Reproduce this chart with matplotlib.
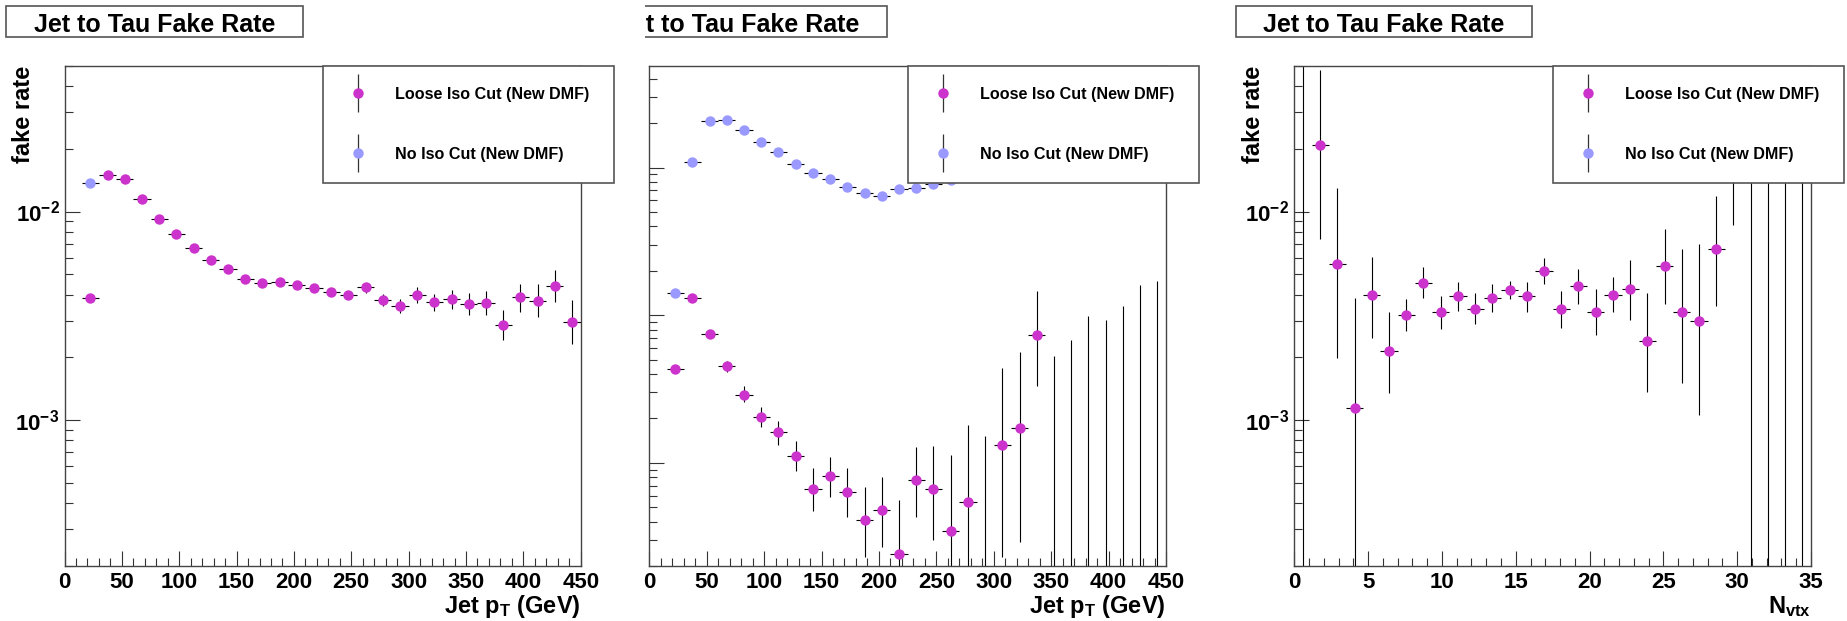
import matplotlib
matplotlib.use("Agg")
import matplotlib.pyplot as plt
import numpy as np
from matplotlib.lines import Line2D
from matplotlib.patches import Rectangle
from matplotlib.legend_handler import HandlerTuple
from matplotlib.ticker import (LogLocator, NullFormatter, FuncFormatter,
                               MultipleLocator, AutoMinorLocator)

plt.rcParams["font.family"] = ["Liberation Sans", "DejaVu Sans"]
plt.rcParams["font.weight"] = "bold"
plt.rcParams["axes.labelweight"] = "bold"
plt.rcParams["mathtext.fontset"] = "custom"
plt.rcParams["mathtext.rm"] = "Liberation Sans:bold"
plt.rcParams["mathtext.bf"] = "Liberation Sans:bold"
plt.rcParams["mathtext.it"] = "Liberation Sans:bold"

MAGENTA = "#cc33cc"
BLUE = "#9999ff"
TITLE = "Jet to Tau Fake Rate"
LABELS = ["Loose Iso Cut (New DMF)", "No Iso Cut (New DMF)"]

# jet pT binning (15 GeV wide bins)
pt_bins = [22.5, 37.5, 52.5, 67.5, 82.5, 97.5, 112.5, 127.5, 142.5, 157.5,
           172.5, 187.5, 202.5, 217.5, 232.5, 247.5, 262.5, 277.5, 292.5,
           307.5, 322.5, 337.5, 352.5, 367.5, 382.5, 397.5, 412.5, 427.5, 442.5]
pt_halfwidth = 7.5

# N_vtx binning (30 bins over 0-35)
nvtx_bins = [0.583, 1.75, 2.917, 4.083, 5.25, 6.417, 7.583, 8.75, 9.917,
             11.083, 12.25, 13.417, 14.583, 15.75, 16.917, 18.083, 19.25,
             20.417, 21.583, 22.75, 23.917, 25.083, 26.25, 27.417, 28.583,
             29.75, 30.917, 32.083, 33.25, 34.417]
nvtx_halfwidth = 0.583

# --- panel 1: fake rate vs jet pT
fr1_loose = [0.00384, 0.0150, 0.0143, 0.01147, 0.00923, 0.00784, 0.00665,
             0.00586, 0.00531, 0.00475, 0.00453, 0.00460, 0.00443, 0.00432,
             0.00413, 0.00398, 0.00434, 0.00377, 0.00354, 0.00397, 0.00367,
             0.00381, 0.00362, 0.00366, 0.00286, 0.00388, 0.00374, 0.00441,
             0.00295]
fr1_loose_lo = [0.0001, 0.0003, 0.0003, 0.00022, 0.00018, 0.00015, 0.00013,
                0.00012, 0.00011, 0.0001, 0.0001, 0.00011, 0.00012, 0.00013,
                0.00014, 0.00016, 0.00028, 0.00024, 0.00029, 0.00034, 0.00034,
                0.0004, 0.00044, 0.00048, 0.00044, 0.00059, 0.00062, 0.00074,
                0.00063]
fr1_loose_hi = [0.0001, 0.0003, 0.0003, 0.00022, 0.00018, 0.00015, 0.00013,
                0.00012, 0.00011, 0.0001, 0.0001, 0.00011, 0.00012, 0.00013,
                0.00014, 0.00016, 0.00019, 0.00026, 0.00027, 0.00037, 0.00036,
                0.00041, 0.00046, 0.00051, 0.00052, 0.00062, 0.00074, 0.00084,
                0.00082]
fr1_noiso = [0.0137, 0.098, 0.19, 0.20, 0.175, 0.145, 0.125, 0.105, 0.092,
             0.085, 0.076, 0.070, 0.066, 0.066, 0.068, 0.070, 0.072, 0.074,
             0.077, 0.079, 0.082, 0.084, 0.087, 0.089, 0.092, 0.094, 0.097,
             0.099, 0.102]
fr1_noiso_err = [0.0003, 0.002, 0.003, 0.003, 0.003, 0.002, 0.002, 0.002,
                 0.002, 0.002, 0.002, 0.002, 0.002, 0.002, 0.002, 0.002,
                 0.002, 0.002, 0.003, 0.003, 0.003, 0.003, 0.003, 0.004,
                 0.004, 0.004, 0.005, 0.005, 0.006]

# --- panel 2: fake rate vs jet pT, second selection
fr2_loose = [0.00435, 0.01311, 0.00746, 0.00455, 0.00290, 0.00205, 0.00161,
             0.00112, 0.000662, 0.000811, 0.000638, 0.000410, 0.000477,
             0.000243, 0.000759, 0.000662, 0.000347, 0.000546, 0.0, 0.00133,
             0.00172, 0.00740, 0.0, 0.0, 0.0, 0.0, 0.0, 0.0, 0.0]
fr2_loose_lo = [0.0001, 0.0002, 0.0002, 0.00042, 0.00033, 0.0003, 0.00029,
                0.00024, 0.00019, 0.00022, 0.00021, 0.00018, 0.00021, 0.00022,
                0.00033, 0.00036, 0.00034, 0.00054, 0.0, 0.0011, 0.00143,
                0.00406, 0.0, 0.0, 0.0, 0.0, 0.0, 0.0, 0.0]
fr2_loose_hi = [0.0001, 0.0002, 0.0002, 0.00038, 0.0004, 0.00033, 0.00031,
                0.00028, 0.00026, 0.00029, 0.00029, 0.00028, 0.00033, 0.00032,
                0.00053, 0.00064, 0.00079, 0.00127, 0.00153, 0.00305, 0.00392,
                0.0072, 0.00527, 0.00676, 0.00992, 0.00934, 0.01146, 0.0161,
                0.0170]
fr2_noiso = [0.01403, 0.1093, 0.2065, 0.2109, 0.1811, 0.1487, 0.1278, 0.1054,
             0.0916, 0.0838, 0.0739, 0.0676, 0.0639, 0.0713, 0.0731, 0.078,
             0.083, 0.088, 0.094, 0.10, 0.11, 0.12, 0.13, 0.15, 0.17, 0.16,
             0.18, 0.20, 0.22]
fr2_noiso_err = [0.0003, 0.002, 0.003, 0.003, 0.003, 0.002, 0.002, 0.002,
                 0.002, 0.002, 0.002, 0.002, 0.002, 0.002, 0.002, 0.003,
                 0.003, 0.003, 0.004, 0.004, 0.005, 0.006, 0.007, 0.008,
                 0.009, 0.010, 0.012, 0.014, 0.016]

# --- panel 3: fake rate vs number of vertices
fr3_loose = [0.0, 0.02075, 0.00563, 0.00115, 0.00397, 0.00215, 0.00319,
             0.00453, 0.00331, 0.00394, 0.0034, 0.00387, 0.00421, 0.00394,
             0.00519, 0.0034, 0.0044, 0.00331, 0.00397, 0.00427, 0.0024,
             0.00548, 0.00331, 0.003, 0.00662, 0.02, 0.0, 0.0, 0.0, 0.0]
fr3_loose_lo = [0.0, 0.0134, 0.00364, 0.00115, 0.00148, 0.0008, 0.00052,
                0.00069, 0.00057, 0.00059, 0.00051, 0.00057, 0.00041, 0.00063,
                0.00071, 0.00063, 0.00079, 0.00075, 0.00068, 0.00124, 0.00104,
                0.00187, 0.0018, 0.00194, 0.0031, 0.0114, 0.0, 0.0, 0.0, 0.0]
fr3_loose_hi = [0.1, 0.0268, 0.0074, 0.0027, 0.0021, 0.00116, 0.0006,
                0.00088, 0.00064, 0.00067, 0.00066, 0.00063, 0.00046, 0.00064,
                0.00082, 0.00076, 0.00091, 0.00096, 0.00087, 0.00158, 0.00166,
                0.00275, 0.00327, 0.00397, 0.0052, 0.015, 0.04, 0.04, 0.04,
                0.04]
fr3_noiso = [0.14, 0.12, 0.11, 0.105, 0.10, 0.098, 0.097, 0.096, 0.095,
             0.095, 0.094, 0.094, 0.094, 0.093, 0.093, 0.093, 0.092, 0.092,
             0.092, 0.091, 0.091, 0.090, 0.090, 0.090, 0.090, 0.089, 0.090,
             0.090, 0.090, 0.090]
fr3_noiso_err = [0.01, 0.005, 0.004, 0.003, 0.003, 0.002, 0.002, 0.002,
                 0.002, 0.002, 0.002, 0.002, 0.002, 0.002, 0.002, 0.002,
                 0.002, 0.002, 0.002, 0.003, 0.003, 0.003, 0.004, 0.004,
                 0.005, 0.006, 0.007, 0.008, 0.009, 0.010]

W, H = 1847, 621
FRAME_TOP, FRAME_BOTTOM = 65.7, 566.0


def px_rect(left, top, right, bottom):
    return [left / W, 1 - bottom / H, (right - left) / W, (bottom - top) / H]


panels = [
    dict(pad=(0, 615), frame=(64.5, 580.7), x=pt_bins, xerr=pt_halfwidth,
         loose=(fr1_loose, fr1_loose_lo, fr1_loose_hi),
         noiso=(fr1_noiso, fr1_noiso_err, fr1_noiso_err),
         xlim=(0, 450), ylim=(2e-4, 0.05), xmajor=50,
         xlabel=r"Jet $\mathbf{p_{T}}$ (GeV)", ylabel=True),
    dict(pad=(645, 1231), frame=(649.3, 1166.0), x=pt_bins, xerr=pt_halfwidth,
         loose=(fr2_loose, fr2_loose_lo, fr2_loose_hi),
         noiso=(fr2_noiso, fr2_noiso_err, fr2_noiso_err),
         xlim=(0, 450), ylim=(2e-4, 0.49), xmajor=50,
         xlabel=r"Jet $\mathbf{p_{T}}$ (GeV)", ylabel=False),
    dict(pad=(1231, 1847), frame=(1294.3, 1811.0), x=nvtx_bins,
         xerr=nvtx_halfwidth,
         loose=(fr3_loose, fr3_loose_lo, fr3_loose_hi),
         noiso=(fr3_noiso, fr3_noiso_err, fr3_noiso_err),
         xlim=(0, 35), ylim=(2e-4, 0.05), xmajor=5,
         xlabel=r"$\mathbf{N_{vtx}}$", ylabel=True),
]

fig = plt.figure(figsize=(W / 100, H / 100), dpi=100)

for p in panels:
    fl, fr = p["frame"]
    fw = fr - fl
    fh = FRAME_BOTTOM - FRAME_TOP

    # pad: holds the title box, clipped at the pad edges
    pad = fig.add_axes(px_rect(p["pad"][0], 0, p["pad"][1], H), zorder=0)
    pad.axis("off")
    pad.set_xlim(*p["pad"])
    pad.set_ylim(H, 0)
    box_l, box_w = fl - 58.5, 296.5
    pad.add_patch(Rectangle((box_l, 5.7), box_w, 31.6, facecolor="white",
                            edgecolor="#555555", lw=1.2))
    pad.text(box_l + box_w / 2, 32.0, TITLE, ha="center", va="baseline",
             fontsize=18, fontweight="bold", clip_on=True)

    ax = fig.add_axes(px_rect(fl, FRAME_TOP, fr, FRAME_BOTTOM), zorder=1)
    ax.set_yscale("log")

    series = [(p["loose"], MAGENTA), (p["noiso"], BLUE)]
    for (vals, lo, hi), col in series:
        ax.errorbar(p["x"], vals, xerr=p["xerr"], yerr=[lo, hi], fmt="o",
                    ms=7.5, mfc=col, mec=col, mew=0, ecolor="black",
                    elinewidth=0.8, capsize=2, capthick=0.8)

    ax.set_xlim(*p["xlim"])
    ax.set_ylim(*p["ylim"])

    ax.xaxis.set_major_locator(MultipleLocator(p["xmajor"]))
    ax.xaxis.set_minor_locator(AutoMinorLocator(5))
    ax.yaxis.set_major_locator(LogLocator(base=10))
    ax.yaxis.set_minor_locator(LogLocator(base=10, subs=np.arange(2, 10)))
    ax.yaxis.set_minor_formatter(NullFormatter())
    if p["ylabel"]:
        ax.yaxis.set_major_formatter(FuncFormatter(
            lambda v, pos: r"$\mathbf{10^{%d}}$" % round(np.log10(v))))
    else:
        ax.yaxis.set_major_formatter(NullFormatter())

    ax.tick_params(which="both", direction="in", top=False, right=False,
                   width=0.8, color="#333333", labelsize=16)
    ax.tick_params(which="major", length=11)
    ax.tick_params(which="minor", length=6)
    ax.tick_params(axis="x", pad=4)
    ax.tick_params(axis="y", pad=3.5)
    for s in ax.spines.values():
        s.set_color("#444444")
        s.set_linewidth(1.0)

    ax.set_xlabel(p["xlabel"], fontsize=17, fontweight="bold",
                  ha="right", va="baseline")
    ax.xaxis.set_label_coords(1.0, -(613 - FRAME_BOTTOM) / fh)
    if p["ylabel"]:
        # y label uses anchor rotation: text end sits at the frame top
        ax.set_ylabel("fake rate", fontsize=17, fontweight="bold",
                      ha="right", va="center")
        ax.yaxis.set_label_coords(-40.5 / fw, 1.0)

    handles = []
    for col in (MAGENTA, BLUE):
        bar = Line2D([], [], ls="none", marker="|", ms=27, mew=0.9,
                     color="#333333")
        dot = Line2D([], [], ls="none", marker="o", ms=7.5, mfc=col, mec=col,
                     mew=0)
        handles.append((bar, dot))
    leg = ax.legend(handles, LABELS, handler_map={tuple: HandlerTuple(ndivide=1)},
                    loc="upper left", bbox_to_anchor=(0.501, 0.7502, 0.563, 0.2498),
                    mode="expand", borderaxespad=0, borderpad=1.31,
                    labelspacing=2.78, handlelength=1.74, handletextpad=1.4,
                    fontsize=11.6, frameon=True, fancybox=False,
                    edgecolor="#555555", framealpha=1)
    leg.get_frame().set_linewidth(1.2)

fig.savefig("out.png", dpi=100)
